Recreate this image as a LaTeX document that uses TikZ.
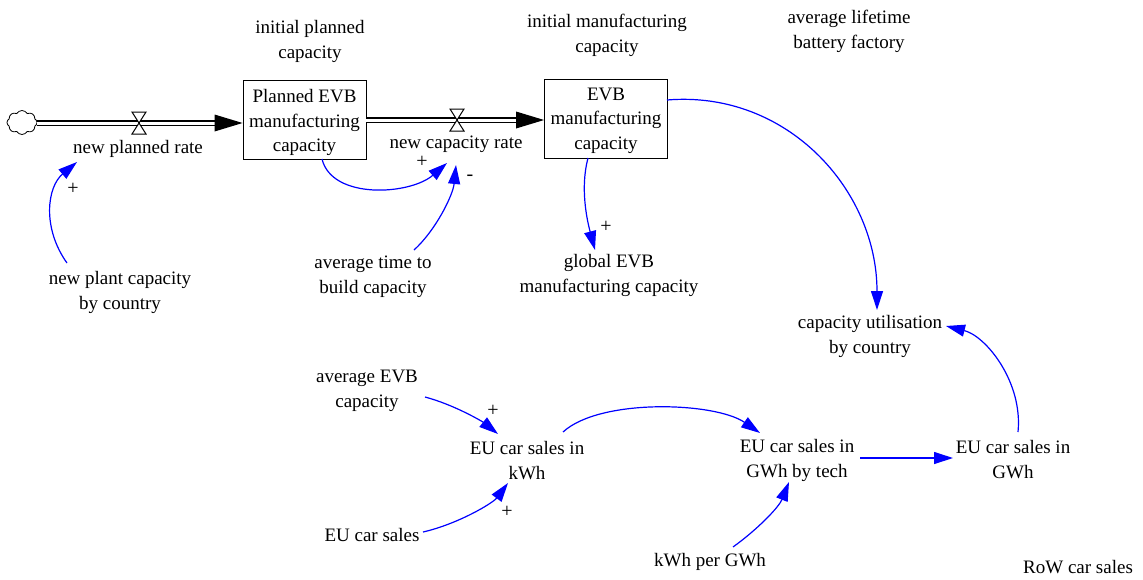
\documentclass[tikz,border=0pt]{standalone}
\usepackage{fontspec}
\setmainfont{Liberation Serif}
\usetikzlibrary{arrows.meta,shapes.symbols,calc}
\begin{document}
\begin{tikzpicture}[x=1pt,y=-1pt,
  lbl/.style={font=\fontsize{19}{25}\selectfont, align=center, inner sep=1pt},
  stock/.style={draw, line width=0.9pt, minimum width=123pt, minimum height=79pt, inner sep=0pt},
  stocktext/.style={align=center, inner sep=0pt, font=\fontsize{19}{24.5}\selectfont},
  link/.style={blue, line width=1.2pt, -{Triangle[length=19pt,width=12pt]}},
  pipe/.style={draw=black, double=white, double distance=3pt, line width=1.1pt},
  valve/.style={draw=black, fill=white, line width=1pt, line join=miter},
  pol/.style={font=\fontsize{20}{20}\selectfont, inner sep=0pt}
]
\useasboundingbox (0,0) rectangle (1143,579);

% stocks
\node[stock] (pb) at (304.5,119.5) {};
\node[stocktext] (pbt) at ([yshift=-3pt]pb.center) {Planned EVB\\manufacturing\\capacity};
\node[stock] (evb) at (606,118.5) {};
\node[stocktext] (evbt) at ([yshift=-2pt]evb.center) {EVB\\manufacturing\\capacity};

% source cloud
\node[cloud, draw, cloud puffs=8, cloud puff arc=120, cloud ignores aspect, minimum width=30pt, minimum height=24pt, inner sep=0pt, line width=0.8pt] (src) at (22,122.5) {};

% valves
\coordinate (v1) at (139,123);
\coordinate (v2) at (457,120);

% flow 1
\draw[pipe] (src.east |- v1) -- ([xshift=-26pt,yshift=-3.5pt]pb.west);
\fill[black] ([yshift=-3.5pt]pb.west) -- ++(-28,-8.5) -- ++(0,17) -- cycle;
\draw[valve] (v1) ++(-7,-11) -- ++(14,0) -- ++(-14,22) -- ++(14,0) -- cycle;

% flow 2
\draw[pipe] ([yshift=-0.5pt]pb.east) -- ([xshift=-26pt,yshift=-1.5pt]evb.west);
\fill[black] ([yshift=-1.5pt]evb.west) -- ++(-28,-8.5) -- ++(0,17) -- cycle;
\draw[valve] (v2) ++(-7,-11) -- ++(14,0) -- ++(-14,22) -- ++(14,0) -- cycle;

% variables
\node[lbl] (npr) at (138,149) {new planned rate};
\node[lbl] (ncr) at (456,144) {new capacity rate};
\node[lbl] (ipc) at (310,41.5) {initial planned\\capacity};
\node[lbl] (imc) at (607,35) {initial manufacturing\\capacity};
\node[lbl] (alb) at (849,31.5) {average lifetime\\battery factory};
\node[lbl] (npc) at (120,292.5) {new plant capacity\\by country};
\node[lbl] (atb) at (373,277) {average time to\\build capacity};
\node[lbl] (glob) at (609,275.5) {global EVB\\manufacturing capacity};
\node[lbl] (cu) at (870,336.5) {capacity utilisation\\by country};
\node[lbl] (aevb) at (367,390.5) {average EVB\\capacity};
\node[lbl] (kwh) at (527,460.5) {EU car sales in\\kWh};
\node[lbl] (gbt) at (797,460) {EU car sales in\\GWh by tech};
\node[lbl] (gwh) at (1013,460) {EU car sales in\\GWh};
\node[lbl] (eucs) at (372,535) {EU car sales};
\node[lbl] (kpg) at (710,562) {kWh per GWh};
\node[lbl] (row) at (1078,567) {RoW car sales};

% links
\draw[link] ([shift={(-53,-29.5)}]npc.center) .. controls +(-25,-35) and +(-30,25) .. ([shift={(-61,13)}]npr.center);
\node[pol] at (73,189) {+};

\draw[link] ([shift={(17.5,39.5)}]pb.center) .. controls +(10,41) and +(-37,32) .. ([shift={(-9,19)}]ncr.center);
\node[pol] at (422,162) {+};

\draw[link] ([shift={(41,-27)}]atb.center) .. controls +(22,-20) and +(-3,30) .. ([shift={(0,21)}]ncr.center);
\node[pol] at (470,178) {-};

\draw[link] ([shift={(-18,39.5)}]evb.center) .. controls +(-8,30) and +(-8,-30) .. ([shift={(-14,-25.5)}]glob.center);
\node[pol] at (606,227) {+};

\draw[link] ([shift={(61,-18.5)}]evb.center) .. controls +(120,-10) and +(0,-120) .. ([shift={(7,-26.5)}]cu.center);

\draw[link] ([shift={(5,-28)}]gwh.center) .. controls +(5,-50) and +(40,10) .. ([shift={(76,-10.5)}]cu.center);

\draw[link] ([shift={(58,6.5)}]aevb.center) .. controls +(30,8) and +(-15,-12) .. ([shift={(-29,-26.5)}]kwh.center);
\node[pol] at (493,411) {+};

\draw[link] ([shift={(51,-3)}]eucs.center) .. controls +(35,-8) and +(-15,20) .. ([shift={(-19,22.5)}]kwh.center);
\node[pol] at (507,512) {+};

\draw[link] ([shift={(36,-28.5)}]kwh.center) .. controls +(37,-34) and +(-45,-31) .. ([shift={(-37,-27)}]gbt.center);

\draw[link] ([shift={(63,-2)}]gbt.center) -- ([shift={(-60,-2)}]gwh.center);

\draw[link] ([shift={(23,-15)}]kpg.center) .. controls +(25,-18) and +(-10,25) .. ([shift={(-8,22)}]gbt.center);
\end{tikzpicture}
\end{document}
